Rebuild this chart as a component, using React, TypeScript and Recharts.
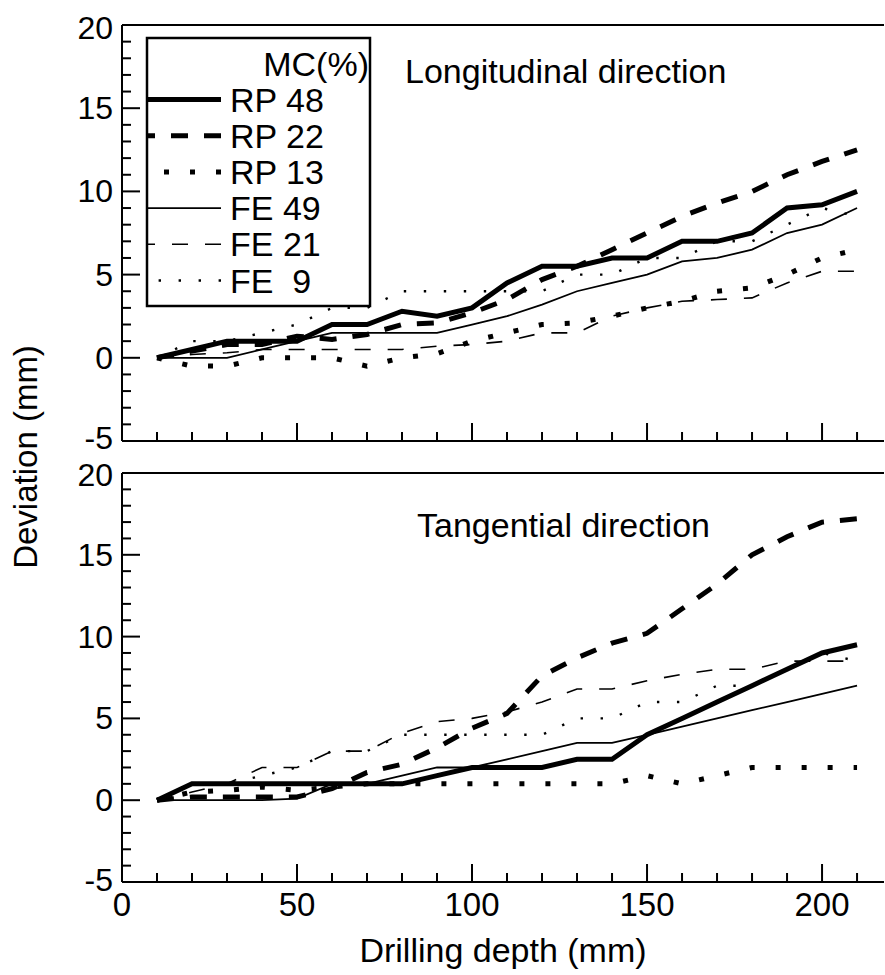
import React from 'react';
import { LineChart, Line, XAxis, YAxis } from 'recharts';

// drilling depth (mm) of every reading
const depth = [10, 20, 30, 40, 50, 60, 70, 80, 90, 100, 110, 120, 130, 140, 150, 160, 170, 180, 190, 200, 210];

// axis ticks
const xTicks = [0, 10, 20, 30, 40, 50, 60, 70, 80, 90, 100, 110, 120, 130, 140, 150, 160, 170, 180, 190, 200, 210];
const xLabels = [0, 50, 100, 150, 200];
const yTicks = [-5, -4, -3, -2, -1, 0, 1, 2, 3, 4, 5, 6, 7, 8, 9, 10, 11, 12, 13, 14, 15, 16, 17, 18, 19, 20];
const yLabels = [-5, 0, 5, 10, 15, 20];

// Longitudinal direction, deviation (mm)
const rp48Long = [0, 0.5, 1, 1, 1, 2, 2, 2.8, 2.5, 3, 4.5, 5.5, 5.5, 6, 6, 7, 7, 7.5, 9, 9.2, 10];
const rp22Long = [0, 0.4, 0.8, 0.8, 1.3, 1.1, 1.4, 2, 2.1, 2.7, 3.5, 4.7, 5.5, 6.5, 7.5, 8.5, 9.3, 10, 11, 11.8, 12.5];
const rp13Long = [0, -0.5, -0.5, 0, 0, 0, -0.5, 0, 0.25, 1, 1.5, 2, 2.1, 2.5, 3, 3.4, 4, 4.2, 5, 6, 6.5];
const fe49Long = [0, 0, 0, 0.5, 1, 1.5, 1.5, 1.5, 1.5, 2, 2.5, 3.2, 4, 4.5, 5, 5.8, 6, 6.5, 7.5, 8, 9];
const fe21Long = [0, 0.2, 0.3, 0.5, 0.5, 0.5, 0.5, 0.5, 0.7, 0.8, 1, 1.5, 1.5, 2.5, 3, 3.4, 3.5, 3.6, 4.5, 5.2, 5.2];
const fe9Long = [0, 1, 1, 1.5, 2, 3, 3, 4, 4, 4, 4, 4, 5, 5, 6, 6, 7, 7, 8, 9, 8.5];

// Tangential direction, deviation (mm)
const rp48Tang = [0, 1, 1, 1, 1, 1, 1, 1, 1.5, 2, 2, 2, 2.5, 2.5, 4, 5, 6, 7, 8, 9, 9.5];
const rp22Tang = [0, 0.2, 0.2, 0.2, 0.2, 0.7, 1.7, 2.2, 3.2, 4.4, 5.3, 7.6, 8.7, 9.6, 10.2, 11.7, 13.2, 15, 16.1, 17, 17.2];
const rp13Tang = [0, 0.5, 0.6, 0.8, 0.6, 0.8, 1, 1, 1, 1, 1, 1, 1, 1, 1.5, 1, 1.5, 2, 2, 2, 2];
const fe49Tang = [0, 0, 0, 0, 0.1, 1, 1, 1.5, 2, 2, 2.5, 3, 3.5, 3.5, 4, 4.5, 5, 5.5, 6, 6.5, 7];
const fe21Tang = [0, 0.5, 1, 2, 2, 3, 3, 4.1, 4.8, 5, 5.4, 6, 6.8, 6.8, 7.3, 7.7, 8, 8, 8.5, 8.5, 8.5];
const fe9Tang = [0, 1, 1, 1.5, 2, 3, 3, 4, 4, 4, 4, 4, 5, 5, 6, 6, 7, 7, 8, 9, 8.5];

const seriesNames = ['RP 48', 'RP 22', 'RP 13', 'FE 49', 'FE 21', 'FE  9'];

// line look for each series (same order as seriesNames)
const styles = [
  { key: 'rp48', width: 5, dash: undefined as string | undefined },
  { key: 'rp22', width: 5, dash: '17 16' },
  { key: 'rp13', width: 5, dash: '5 21' },
  { key: 'fe49', width: 1.8, dash: undefined },
  { key: 'fe21', width: 1.6, dash: '16 17' },
  { key: 'fe9', width: 2.4, dash: '2.4 17.6' },
];

const longData = depth.map((d, i) => ({
  depth: d,
  rp48: rp48Long[i],
  rp22: rp22Long[i],
  rp13: rp13Long[i],
  fe49: fe49Long[i],
  fe21: fe21Long[i],
  fe9: fe9Long[i],
}));

const tangData = depth.map((d, i) => ({
  depth: d,
  rp48: rp48Tang[i],
  rp22: rp22Tang[i],
  rp13: rp13Tang[i],
  fe49: fe49Tang[i],
  fe21: fe21Tang[i],
  fe9: fe9Tang[i],
}));

const FONT = '"Liberation Sans", Arial, Helvetica, sans-serif';
const W = 885;
const H = 975;
const X_MAX = 217.7;

// ticks point into the plot, majors are longer
const XTick = (props: any) => {
  const { x, y, payload, showLabel } = props;
  const v = payload.value;
  const major = xLabels.includes(v);
  return (
    <g>
      <line x1={x} x2={x} y1={y} y2={y - (major ? 18 : 9)} stroke="#000" strokeWidth={2} />
      {showLabel && major && (
        <text x={x} y={y + 34} textAnchor="middle" fontSize={33} fontFamily={FONT} fill="#000">
          {v}
        </text>
      )}
    </g>
  );
};

const YTick = (props: any) => {
  const { x, y, payload, lift } = props;
  const v = payload.value;
  const major = yLabels.includes(v);
  // the -5 of the upper panel and the 20 of the lower one sit close together
  const shift = v === -5 ? -lift : v === 20 ? lift : 0;
  return (
    <g>
      <line x1={x} x2={x + (major ? 18 : 9)} y1={y} y2={y} stroke="#000" strokeWidth={2} />
      {major && (
        <text x={x - 9} y={y + 11 + shift} textAnchor="end" fontSize={32} fontFamily={FONT} fill="#000">
          {v}
        </text>
      )}
    </g>
  );
};

// plot area edges in page pixels: left 122, right 884
function Panel({
  data,
  top,
  bottom,
  showXLabels,
  lift,
}: {
  data: any[];
  top: number;
  bottom: number;
  showXLabels: boolean;
  lift: number;
}) {
  return (
    <div style={{ position: 'absolute', left: 0, top: 0 }}>
      <LineChart width={W} height={H} data={data} margin={{ top: top - 1, right: 1, left: 121, bottom: H - bottom - 1 }}>
        <XAxis
          dataKey="depth"
          type="number"
          domain={[0, X_MAX]}
          allowDataOverflow
          ticks={xTicks}
          interval={0}
          height={1}
          tickSize={0}
          tickMargin={0}
          tickLine={false}
          axisLine={{ stroke: '#000', strokeWidth: 2 }}
          tick={(p: any) => <XTick {...p} showLabel={showXLabels} />}
        />
        <XAxis
          xAxisId="top"
          orientation="top"
          dataKey="depth"
          type="number"
          domain={[0, X_MAX]}
          allowDataOverflow
          ticks={xLabels}
          height={1}
          tick={false}
          tickLine={false}
          axisLine={{ stroke: '#000', strokeWidth: 2 }}
        />
        <YAxis
          type="number"
          domain={[-5, 20]}
          allowDataOverflow
          ticks={yTicks}
          interval={0}
          width={1}
          tickSize={0}
          tickMargin={0}
          tickLine={false}
          axisLine={{ stroke: '#000', strokeWidth: 2 }}
          tick={(p: any) => <YTick {...p} lift={lift} />}
        />
        {styles.map((s) => (
          <Line
            key={s.key}
            type="linear"
            dataKey={s.key}
            stroke="#000"
            strokeWidth={s.width}
            strokeDasharray={s.dash}
            dot={false}
            activeDot={false}
            isAnimationActive={false}
          />
        ))}
      </LineChart>
    </div>
  );
}

function Overlay() {
  const rowY = (i: number) => 99.5 + i * 36.2;
  return (
    <svg width={W} height={H} style={{ position: 'absolute', left: 0, top: 0, pointerEvents: 'none' }}>
      {/* legend */}
      <rect x={147} y={38} width={223} height={268} fill="#fff" stroke="#000" strokeWidth={2.5} />
      <text x={369} y={76} textAnchor="end" fontSize={34} fontFamily={FONT}>
        MC(%)
      </text>
      {seriesNames.map((name, i) => (
        <g key={name}>
          <line
            x1={221}
            x2={148}
            y1={rowY(i)}
            y2={rowY(i)}
            stroke="#000"
            strokeWidth={styles[i].width}
            strokeDasharray={styles[i].dash}
          />
          <text x={230} y={rowY(i) + 12} fontSize={34} fontFamily={FONT} style={{ whiteSpace: 'pre' }}>
            {name}
          </text>
        </g>
      ))}

      <text x={405} y={83} fontSize={34} fontFamily={FONT}>
        Longitudinal direction
      </text>
      <text x={417} y={537} fontSize={34} fontFamily={FONT}>
        Tangential direction
      </text>

      <text x={503} y={962} textAnchor="middle" fontSize={34} fontFamily={FONT}>
        Drilling depth (mm)
      </text>
      <text
        x={0}
        y={0}
        transform="translate(37 457) rotate(-90)"
        textAnchor="middle"
        fontSize={33}
        fontFamily={FONT}
      >
        Deviation (mm)
      </text>
    </svg>
  );
}

export default function App() {
  return (
    <div style={{ position: 'absolute', left: 0, top: 0, width: W, height: H, overflow: 'hidden', background: '#fff' }}>
      <Panel data={longData} top={25} bottom={441} showXLabels={false} lift={3} />
      <Panel data={tangData} top={473} bottom={882} showXLabels={true} lift={2} />
      <Overlay />
    </div>
  );
}
